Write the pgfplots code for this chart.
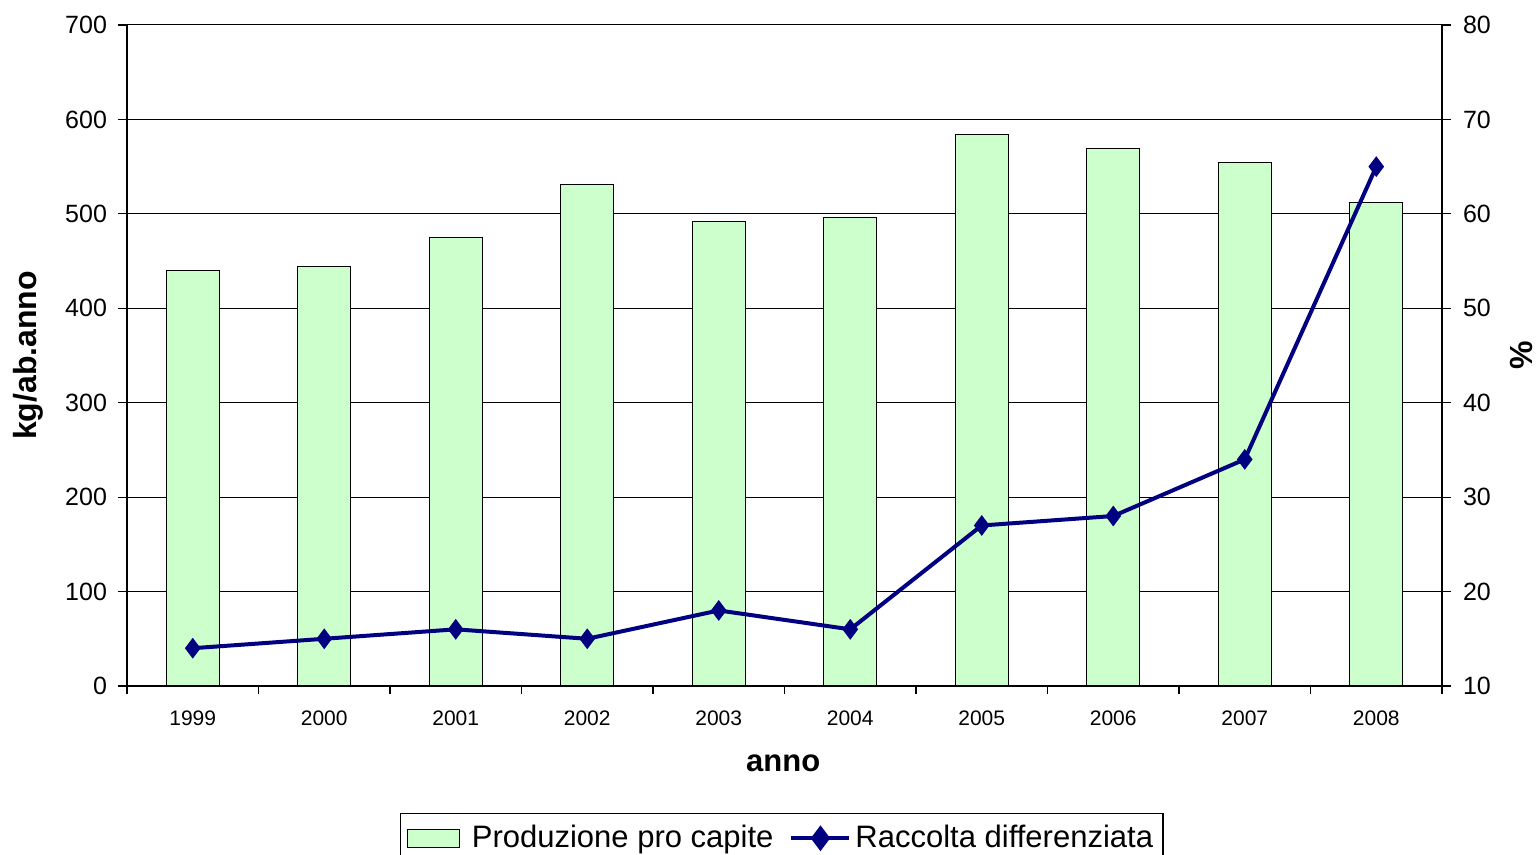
\documentclass[border=0pt]{standalone}
\usepackage{fontspec}
\setmainfont{Liberation Sans}
\usepackage{pgfplots}
\pgfplotsset{compat=1.18}
\definecolor{barfill}{HTML}{CCFFCC}
\definecolor{navyline}{HTML}{000080}
\begin{document}
\begin{tikzpicture}
\path[use as bounding box] (-63.5pt,-84.5pt) rectangle (706pt,343pt);
\begin{axis}[
  at={(0,0)}, anchor=south west,
  scale only axis, width=657.5pt, height=330.5pt,
  xmin=-0.5, xmax=9.5, ymin=0, ymax=700,
  axis x line*=bottom, axis y line*=left,
  axis line style={black, line width=0.6pt},
  xtick={0,...,9},
  xticklabels={1999,2000,2001,2002,2003,2004,2005,2006,2007,2008},
  major x tick style={draw=none},
  minor xtick={-0.5,0.5,...,9.5},
  minor x tick style={black, line width=0.6pt},
  minor tick length=4pt,
  ytick={0,100,...,700},
  major tick length=4.5pt,
  tick align=outside,
  ytick style={black, line width=0.6pt},
  ymajorgrids, grid style={black, line width=0.5pt},
  /pgf/number format/assume math mode=true,
  xticklabel style={font=\fontsize{10.5}{12}\selectfont, yshift=-4.5pt},
  yticklabel style={font=\fontsize{12.5}{14}\selectfont, xshift=-2pt},
  every axis y label/.style={at={(axis description cs:-0.0753,0.5)}, rotate=90, anchor=center, font=\fontsize{16}{18}\selectfont\bfseries},
  every axis x label/.style={at={(axis description cs:0.499,-0.1165)}, anchor=center, font=\fontsize{15.5}{18}\selectfont\bfseries},
  ylabel={kg/ab.anno},
  xlabel={anno},
  clip=false,
]
\addplot[ybar, bar width=26.5pt, fill=barfill, draw=black, line width=0.5pt, bar shift=0pt]
  coordinates {(0,440) (1,444) (2,475) (3,531) (4,492) (5,496) (6,584) (7,569) (8,554) (9,512)};
\end{axis}
\begin{axis}[
  at={(0,0)}, anchor=south west,
  scale only axis, width=657.5pt, height=330.5pt,
  xmin=-0.5, xmax=9.5, ymin=10, ymax=80,
  axis x line=none, axis y line*=right,
  axis line style={black, line width=0.6pt},
  ytick={10,20,...,80},
  major tick length=4.5pt,
  tick align=outside,
  ytick style={black, line width=0.6pt},
  /pgf/number format/assume math mode=true,
  yticklabel style={font=\fontsize{12.5}{14}\selectfont, xshift=2.5pt},
  every axis y label/.style={at={(axis description cs:1.0608,0.5)}, rotate=90, anchor=center, font=\fontsize{16}{18}\selectfont\bfseries},
  ylabel={\%},
  clip=false,
  legend columns=2,
  legend style={at={(axis description cs:0.498,-0.192)}, anchor=north, draw=black, line width=0.6pt,
    font=\fontsize{15.5}{18}\selectfont, inner xsep=3pt, inner ysep=4pt,
    /tikz/every even column/.append style={column sep=6pt}},
]
\addlegendimage{legend image code/.code={\draw[fill=barfill, draw=black, line width=0.6pt] (0pt,-4.5pt) rectangle (26pt,4.5pt); \path (30pt,0pt);}}
\addlegendentry{Produzione pro capite}
\addplot[navyline, line width=2pt, mark=diamond*, mark size=4.8pt, mark options={fill=navyline, draw=navyline, line width=0.5pt},
  legend image code/.code={\draw[navyline, line width=2pt] (0pt,0pt) -- (29pt,0pt); \fill[navyline] (14.5pt,-4.8pt) -- (18.1pt,0pt) -- (14.5pt,4.8pt) -- (10.9pt,0pt) -- cycle;}]
  coordinates {(0,14) (1,15) (2,16) (3,15) (4,18) (5,16) (6,27) (7,28) (8,34) (9,65)};
\addlegendentry{Raccolta differenziata}
\end{axis}
\end{tikzpicture}
\end{document}
